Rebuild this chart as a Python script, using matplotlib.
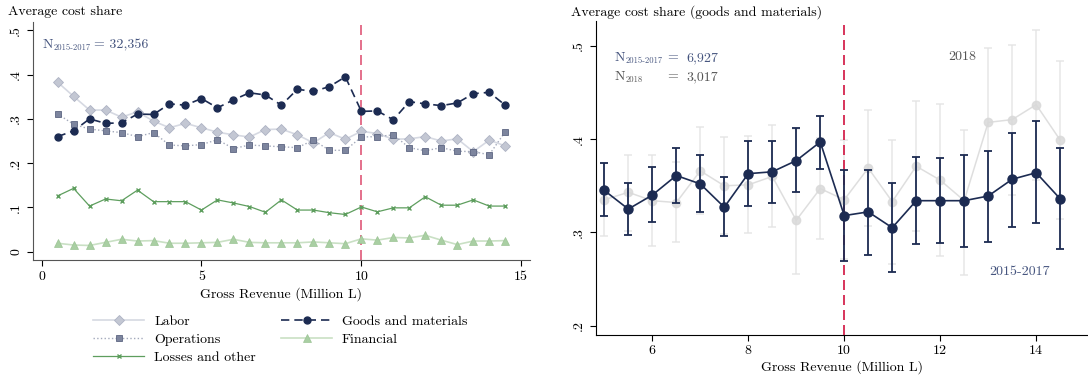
import numpy as np
import matplotlib.pyplot as plt

plt.rcParams['font.family'] = 'cmr10'
plt.rcParams['mathtext.fontset'] = 'cm'
plt.rcParams['axes.unicode_minus'] = False
plt.rcParams['font.size'] = 10

# --- cost shares by revenue bin (left panel) ---
bins_all = np.arange(0.5, 15.0, 0.5)   # 0.5 ... 14.5

labor = [0.383, 0.351, 0.320, 0.320, 0.304, 0.316, 0.295, 0.280, 0.290, 0.280,
         0.270, 0.264, 0.259, 0.276, 0.277, 0.264, 0.246, 0.269, 0.254, 0.272,
         0.267, 0.254, 0.255, 0.260, 0.250, 0.255, 0.226, 0.252, 0.239]
operations = [0.311, 0.288, 0.277, 0.273, 0.269, 0.260, 0.269, 0.241, 0.239, 0.242,
              0.253, 0.233, 0.241, 0.239, 0.237, 0.235, 0.252, 0.229, 0.229, 0.259,
              0.260, 0.264, 0.235, 0.228, 0.235, 0.227, 0.226, 0.219, 0.271]
losses = [0.126, 0.143, 0.103, 0.119, 0.115, 0.139, 0.113, 0.113, 0.113, 0.094,
          0.117, 0.110, 0.102, 0.089, 0.117, 0.094, 0.094, 0.088, 0.084, 0.101,
          0.090, 0.099, 0.099, 0.124, 0.105, 0.105, 0.117, 0.103, 0.103]
goods = [0.260, 0.273, 0.300, 0.290, 0.291, 0.311, 0.310, 0.334, 0.331, 0.346,
         0.325, 0.343, 0.359, 0.354, 0.331, 0.367, 0.362, 0.373, 0.395, 0.317,
         0.318, 0.298, 0.339, 0.334, 0.330, 0.336, 0.357, 0.360, 0.331]
financial = [0.019, 0.015, 0.014, 0.021, 0.028, 0.024, 0.025, 0.019, 0.019, 0.020,
             0.021, 0.028, 0.021, 0.020, 0.020, 0.020, 0.022, 0.020, 0.018, 0.029,
             0.026, 0.032, 0.031, 0.037, 0.026, 0.016, 0.024, 0.024, 0.025]

# --- goods and materials share with 95% CIs (right panel) ---
bins_gm = np.arange(5.0, 15.0, 0.5)   # 5.0 ... 14.5

gm_1517 = [0.345, 0.325, 0.340, 0.361, 0.352, 0.327, 0.363, 0.365, 0.377, 0.397,
           0.318, 0.322, 0.305, 0.334, 0.334, 0.334, 0.339, 0.357, 0.364, 0.336]
gm_1517_lo = [0.318, 0.297, 0.311, 0.332, 0.322, 0.296, 0.328, 0.331, 0.343, 0.368,
              0.269, 0.276, 0.257, 0.287, 0.289, 0.284, 0.290, 0.306, 0.310, 0.282]
gm_1517_hi = [0.374, 0.353, 0.370, 0.391, 0.383, 0.359, 0.398, 0.398, 0.412, 0.425,
              0.367, 0.367, 0.353, 0.381, 0.380, 0.383, 0.387, 0.407, 0.419, 0.390]

gm_2018 = [0.335, 0.343, 0.334, 0.332, 0.366, 0.350, 0.351, 0.360, 0.313, 0.347,
           0.335, 0.369, 0.333, 0.371, 0.356, 0.334, 0.418, 0.421, 0.437, 0.399]
gm_2018_lo = [0.296, 0.302, 0.285, 0.290, 0.320, 0.298, 0.299, 0.306, 0.255, 0.293,
              0.271, 0.307, 0.266, 0.302, 0.275, 0.254, 0.338, 0.340, 0.356, 0.314]
gm_2018_hi = [0.374, 0.383, 0.383, 0.375, 0.413, 0.402, 0.403, 0.415, 0.411, 0.401,
              0.399, 0.431, 0.399, 0.441, 0.438, 0.410, 0.498, 0.501, 0.517, 0.484]

NAVY = '#1c2b52'
LIGHT = '#c3c7d3'
GREEN = '#5e9e5e'
LGREEN = '#a9cfa3'
RED = '#d1123f'
NTXT = '#46557f'
GTXT = '#555555'

W, H = 1088, 378


def style_axes(ax):
    for s in ('top', 'right'):
        ax.spines[s].set_visible(False)
    ax.tick_params(direction='out', length=4, width=0.8)


def fig_xy(px, py):
    # pixel position (from top-left) -> figure fraction
    return px / W, 1 - py / H


def n_label(fig, px, py, sub, color):
    # "N" with a small subscript, drawn as two texts
    fig.text(*fig_xy(px, py), 'N', ha='left', va='center', color=color, fontsize=10)
    fig.text(*fig_xy(px + 11, py + 3), sub, ha='left', va='center', color=color,
             fontsize=6.2)


fig = plt.figure(figsize=(W / 100, H / 100), dpi=100)

# ---------------- left: all cost shares ----------------
ax1 = fig.add_axes([0.030, 0.312, 0.457, 0.631])
ax1.plot(bins_all, labor, '-', color='#d6d9e2', lw=1.2, marker='D', ms=5,
         mfc=LIGHT, mec='#adb2c3', mew=0.6, label='Labor', zorder=3)
ax1.plot(bins_all, operations, ':', color='#a3a9bb', lw=1.0, marker='s', ms=4.5,
         mfc='#7d859e', mec='#5d6682', mew=0.6, label='Operations', zorder=3)
ax1.plot(bins_all, losses, '-', color=GREEN, lw=0.9, marker='x', ms=2.5,
         mew=1.0, label='Losses and other', zorder=3)
ax1.plot(bins_all, goods, '--', color=NAVY, lw=1.2, dashes=(5, 3), marker='o', ms=5,
         label='Goods and materials', zorder=4)
ax1.plot(bins_all, financial, '-', color='#c9e0c4', lw=1.2, marker='^', ms=5.5,
         mfc=LGREEN, mec='#9cc495', mew=0.5, label='Financial', zorder=3)
ax1.axvline(10, color=RED, lw=1.2, ls=(0, (6, 3)), alpha=0.7, zorder=2)

ax1.set_xlim(-0.28, 15.27)
ax1.set_ylim(-0.019, 0.52)
ax1.set_xticks([0, 5, 10, 15])
ax1.set_xticklabels(['0', '5', '10', '15'])
ax1.set_yticks([0, 0.1, 0.2, 0.3, 0.4, 0.5])
ax1.set_yticklabels(['0', '.1', '.2', '.3', '.4', '.5'], rotation=90, va='center')
style_axes(ax1)
for s in ('left', 'bottom'):
    ax1.spines[s].set_color('#555555')
ax1.set_xlabel('Gross Revenue (Million L)', labelpad=3)
fig.text(*fig_xy(8, 12), 'Average cost share', ha='left', va='center')
n_label(fig, 43, 45, '2015-2017', NTXT)
fig.text(*fig_xy(94, 45), '= 32,356', ha='left', va='center', color=NTXT)

order = ['Labor', 'Operations', 'Losses and other', 'Goods and materials', 'Financial']
handles = sorted(ax1.get_lines()[:5], key=lambda h: order.index(h.get_label()))
fig.legend(handles=handles, ncol=2, frameon=False, loc='upper left',
           bbox_to_anchor=fig_xy(86, 308), borderpad=0,
           handlelength=3.7, handletextpad=0.7, columnspacing=1.8,
           labelspacing=0.4, fontsize=10)

# ---------------- right: goods and materials, by period ----------------
ax2 = fig.add_axes([0.5475, 0.114, 0.4525, 0.831])
ax2.errorbar(bins_gm, gm_2018,
             yerr=[np.subtract(gm_2018, gm_2018_lo), np.subtract(gm_2018_hi, gm_2018)],
             fmt='-o', color='#d9d9d9', ecolor='#e3e3e3', ms=6, lw=1.1,
             elinewidth=1.1, capsize=3, capthick=1.1, alpha=0.85, zorder=2)
ax2.errorbar(bins_gm, gm_1517,
             yerr=[np.subtract(gm_1517, gm_1517_lo), np.subtract(gm_1517_hi, gm_1517)],
             fmt='-o', color=NAVY, ecolor=NAVY, ms=6.5, lw=1.2,
             elinewidth=1.3, capsize=3.2, capthick=1.3, zorder=4)
ax2.axvline(10, color=RED, lw=1.2, ls=(0, (6, 3)), zorder=3)

ax2.set_xlim(4.82, 15.08)
ax2.set_ylim(0.190, 0.527)
ax2.set_xticks([6, 8, 10, 12, 14])
ax2.set_yticks([0.2, 0.3, 0.4, 0.5])
ax2.set_yticklabels(['.2', '.3', '.4', '.5'], rotation=90, va='center')
style_axes(ax2)
ax2.set_xlabel('Gross Revenue (Million L)', labelpad=2)
fig.text(*fig_xy(571, 12), 'Average cost share (goods and materials)',
         ha='left', va='center')

n_label(fig, 615, 58, '2015-2017', NTXT)
fig.text(*fig_xy(667, 58), '=', ha='left', va='center', color=NTXT)
fig.text(*fig_xy(686, 58), '6,927', ha='left', va='center', color=NTXT)
n_label(fig, 615, 77, '2018', GTXT)
fig.text(*fig_xy(667, 77), '=', ha='left', va='center', color=GTXT)
fig.text(*fig_xy(686, 77), '3,017', ha='left', va='center', color=GTXT)
fig.text(*fig_xy(962, 57), '2018', ha='center', va='center', color=GTXT)
fig.text(*fig_xy(1020, 272), '2015-2017', ha='center', va='center', color=NTXT)

fig.savefig('out.png', dpi=100)
